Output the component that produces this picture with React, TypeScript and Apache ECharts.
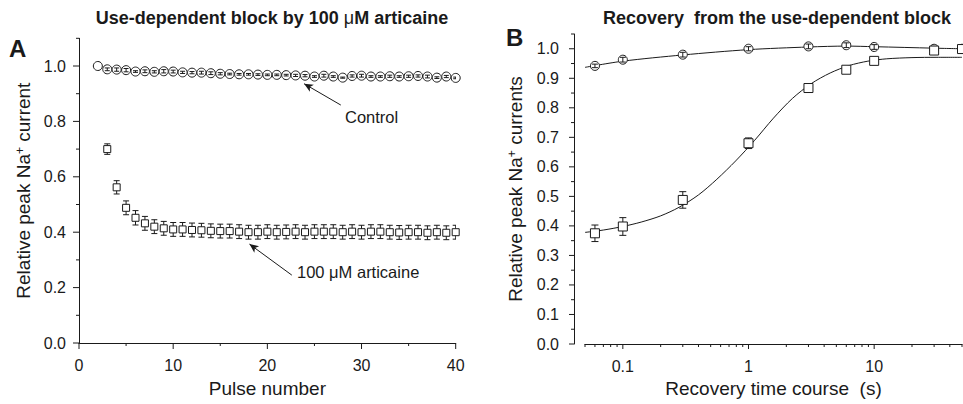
import React, { useEffect, useRef } from 'react';
import * as echarts from 'echarts';

const FONT = '"Liberation Sans", Arial, Helvetica, sans-serif';
const INK = '#1a1a1a';

// ---------- Panel A: use-dependent block ----------
const controlPulses = [2, 3, 4, 5, 6, 7, 8, 9, 10, 11, 12, 13, 14, 15, 16, 17, 18, 19, 20, 21, 22, 23, 24, 25, 26, 27, 28, 29, 30, 31, 32, 33, 34, 35, 36, 37, 38, 39, 40];
const controlA = [1.000, 0.988, 0.987, 0.985, 0.980, 0.981, 0.979, 0.981, 0.980, 0.977, 0.976, 0.976, 0.974, 0.972, 0.971, 0.970, 0.970, 0.969, 0.968, 0.968, 0.967, 0.966, 0.965, 0.962, 0.965, 0.962, 0.958, 0.964, 0.965, 0.962, 0.962, 0.963, 0.962, 0.963, 0.964, 0.962, 0.958, 0.962, 0.957];
const controlAErr = [0, 0.005, 0.006, 0.006, 0.003, 0.005, 0.004, 0.006, 0.005, 0.004, 0.004, 0.005, 0.005, 0.004, 0.003, 0.003, 0.003, 0.003, 0.003, 0.003, 0.003, 0.004, 0.004, 0.003, 0.005, 0.003, 0.002, 0.004, 0.005, 0.003, 0.003, 0.004, 0.003, 0.004, 0.004, 0.005, 0.003, 0.004, 0.003];

const articainePulses = [3, 4, 5, 6, 7, 8, 9, 10, 11, 12, 13, 14, 15, 16, 17, 18, 19, 20, 21, 22, 23, 24, 25, 26, 27, 28, 29, 30, 31, 32, 33, 34, 35, 36, 37, 38, 39, 40];
const articaineA = [0.700, 0.562, 0.488, 0.452, 0.432, 0.420, 0.414, 0.410, 0.410, 0.408, 0.407, 0.405, 0.404, 0.404, 0.402, 0.400, 0.400, 0.402, 0.400, 0.401, 0.402, 0.400, 0.402, 0.402, 0.402, 0.400, 0.402, 0.400, 0.402, 0.402, 0.400, 0.399, 0.400, 0.400, 0.398, 0.400, 0.398, 0.400];
const articaineAErr = [0.019, 0.024, 0.025, 0.026, 0.025, 0.025, 0.025, 0.025, 0.025, 0.025, 0.025, 0.025, 0.025, 0.025, 0.025, 0.025, 0.025, 0.025, 0.025, 0.025, 0.025, 0.025, 0.025, 0.025, 0.025, 0.025, 0.025, 0.025, 0.025, 0.025, 0.025, 0.025, 0.025, 0.025, 0.025, 0.025, 0.025, 0.025];

const xMajorA = [0, 10, 20, 30, 40];
const xMinorA = [5, 15, 25, 35];
const yMajorA = [0, 0.2, 0.4, 0.6, 0.8, 1.0];
const yMinorA = [0.1, 0.3, 0.5, 0.7, 0.9, 1.1];

// ---------- Panel B: recovery ----------
const recoveryTimes = [0.06, 0.1, 0.3, 1, 3, 6, 10, 30, 50];
const controlB = [0.942, 0.963, 0.980, 1.000, 1.008, 1.012, 1.006, 1.000, 1.000];
const controlBErr = [0.006, 0.008, 0.008, 0.007, 0.008, 0.008, 0.008, 0.008, 0.006];
const articaineB = [0.375, 0.398, 0.488, 0.680, 0.867, 0.929, 0.959, 0.994, 0.999];
const articaineBErr = [0.028, 0.030, 0.028, 0.018, 0.006, 0.004, 0.004, 0.008, 0.004];

const fitTimesControl = [0.05, 0.1, 0.3, 1, 3, 6, 10, 30, 50];
const fitControl = [0.937, 0.958, 0.979, 0.997, 1.006, 1.009, 1.007, 1.002, 1.000];
const fitTimesArticaine = [0.05, 0.07, 0.1, 0.14, 0.2, 0.28, 0.4, 0.56, 0.79, 1.12, 1.58, 2.24, 3.16, 4.47, 6.31, 8.91, 12.6, 20, 31.6, 50];
const fitArticaine = [0.378, 0.386, 0.398, 0.413, 0.434, 0.463, 0.505, 0.558, 0.620, 0.690, 0.765, 0.832, 0.882, 0.918, 0.943, 0.958, 0.966, 0.970, 0.971, 0.971];

const xMajorB = [0.1, 1, 10];
const xMinorB = [0.05, 0.06, 0.07, 0.08, 0.09, 0.2, 0.3, 0.4, 0.5, 0.6, 0.7, 0.8, 0.9, 2, 3, 4, 5, 6, 7, 8, 9, 20, 30, 40, 50];
const yMajorB = [0, 0.1, 0.2, 0.3, 0.4, 0.5, 0.6, 0.7, 0.8, 0.9, 1.0];
const yMinorB = [0.05, 0.15, 0.25, 0.35, 0.45, 0.55, 0.65, 0.75, 0.85, 0.95, 1.05];

const X_MIN_B = 0.05;
const X_MAX_B = 50;

function errSeries(xi: number, data: number[][], capW: number, z: number, clip: boolean) {
  return {
    type: 'custom',
    xAxisIndex: xi,
    yAxisIndex: xi,
    z,
    clip,
    silent: true,
    data,
    renderItem: (_p: any, api: any) => {
      const x = api.value(0);
      const y = api.value(1);
      const e = api.value(2);
      if (!(e > 0)) return { type: 'group', children: [] };
      const t = api.coord([x, y + e]);
      const b = api.coord([x, y - e]);
      const h = capW / 2;
      const st = { stroke: INK, lineWidth: 1, fill: null };
      return {
        type: 'group',
        children: [
          { type: 'line', shape: { x1: t[0], y1: t[1], x2: b[0], y2: b[1] }, style: st },
          { type: 'line', shape: { x1: t[0] - h, y1: t[1], x2: t[0] + h, y2: t[1] }, style: st },
          { type: 'line', shape: { x1: b[0] - h, y1: b[1], x2: b[0] + h, y2: b[1] }, style: st },
        ],
      };
    },
  };
}

function tickSeries(xi: number, data: number[][], yOff: number) {
  return {
    type: 'custom',
    xAxisIndex: xi,
    yAxisIndex: xi,
    z: 10,
    clip: false,
    silent: true,
    data,
    renderItem: (_p: any, api: any) => {
      const p = api.coord([api.value(0), api.value(1)]);
      const len = api.value(2);
      const kind = api.value(3);
      const shape =
        kind === 0
          ? { x1: p[0], y1: p[1], x2: p[0], y2: p[1] + len }
          : { x1: p[0] - yOff, y1: p[1], x2: p[0] - yOff - len, y2: p[1] };
      return { type: 'line', shape, style: { stroke: INK, lineWidth: 1 } };
    },
  };
}

const ticksA = [
  ...xMajorA.map((v) => [v, 0, 6, 0]),
  ...xMinorA.map((v) => [v, 0, 3, 0]),
  ...yMajorA.map((v) => [0, v, 6, 1]),
  ...yMinorA.map((v) => [0, v, 3, 1]),
];
const ticksB = [
  ...xMajorB.map((v) => [v, 0, 5, 0]),
  ...xMinorB.map((v) => [v, 0, 3, 0]),
  ...yMajorB.map((v) => [X_MIN_B, v, 5, 1]),
  ...yMinorB.map((v) => [X_MIN_B, v, 3, 1]),
];

const axisLabelBase = { color: INK, fontSize: 16, fontFamily: FONT };
const nameStyle = {
  color: INK,
  fontSize: 19,
  fontFamily: FONT,
  rich: { sup: { fontSize: 12, fontFamily: FONT, color: INK, verticalAlign: 'top', lineHeight: 19 } },
};
const axisLineStyle = { show: true, lineStyle: { color: INK, width: 1 } };

const option: any = {
  animation: false,
  backgroundColor: '#ffffff',
  grid: [
    { left: 79, top: 38.3, width: 376.7, height: 304.7 },
    { left: 585, top: 34, width: 377, height: 310 },
  ],
  xAxis: [
    {
      gridIndex: 0,
      type: 'value',
      min: 0,
      max: 40,
      interval: 10,
      axisLine: axisLineStyle,
      axisTick: { show: false },
      splitLine: { show: false },
      axisLabel: { ...axisLabelBase, margin: 14 },
      name: 'Pulse number',
      nameLocation: 'middle',
      nameGap: 36,
      nameTextStyle: nameStyle,
    },
    {
      gridIndex: 1,
      type: 'log',
      logBase: 10,
      min: X_MIN_B,
      max: X_MAX_B,
      axisLine: axisLineStyle,
      axisTick: { show: false },
      splitLine: { show: false },
      minorSplitLine: { show: false },
      axisLabel: { ...axisLabelBase, margin: 14, showMinLabel: false, showMaxLabel: false },
      name: 'Recovery time course  (s)',
      nameLocation: 'middle',
      nameGap: 34,
      nameTextStyle: nameStyle,
    },
  ],
  yAxis: [
    {
      gridIndex: 0,
      type: 'value',
      min: 0,
      max: 1.1,
      interval: 0.2,
      axisLine: axisLineStyle,
      axisTick: { show: false },
      splitLine: { show: false },
      axisLabel: { ...axisLabelBase, margin: 13, showMaxLabel: false, formatter: (v: number) => v.toFixed(1) },
      name: 'Relative peak Na{sup|+} current',
      nameLocation: 'middle',
      nameGap: 46,
      nameTextStyle: nameStyle,
    },
    {
      gridIndex: 1,
      type: 'value',
      min: 0,
      max: 1.05,
      interval: 0.1,
      offset: 11,
      axisLine: axisLineStyle,
      axisTick: { show: false },
      splitLine: { show: false },
      axisLabel: { ...axisLabelBase, margin: 15, showMaxLabel: false, formatter: (v: number) => v.toFixed(1) },
      name: 'Relative peak Na{sup|+} currents',
      nameLocation: 'middle',
      nameGap: 49,
      nameTextStyle: nameStyle,
    },
  ],
  graphic: [
    {
      type: 'text',
      x: 272,
      y: 18,
      style: {
        text: 'Use-dependent block by 100 {mu|μ}M articaine',
        font: `bold 18px ${FONT}`,
        fill: INK,
        textAlign: 'center',
        align: 'center',
        textVerticalAlign: 'middle',
        verticalAlign: 'middle',
        rich: { mu: { font: `normal 18px ${FONT}`, fill: INK } },
      },
    },
    {
      type: 'text',
      x: 777,
      y: 18,
      style: {
        text: 'Recovery  from the use-dependent block',
        font: `bold 18px ${FONT}`,
        fill: INK,
        textAlign: 'center',
        align: 'center',
        textVerticalAlign: 'middle',
        verticalAlign: 'middle',
      },
    },
    {
      type: 'text',
      x: 9,
      y: 48,
      style: { text: 'A', font: `bold 24px ${FONT}`, fill: INK, textVerticalAlign: 'middle', verticalAlign: 'middle' },
    },
    {
      type: 'text',
      x: 506,
      y: 37,
      style: { text: 'B', font: `bold 24px ${FONT}`, fill: INK, textVerticalAlign: 'middle', verticalAlign: 'middle' },
    },
    {
      type: 'text',
      x: 345,
      y: 117,
      style: { text: 'Control', font: `16.5px ${FONT}`, fill: INK, textVerticalAlign: 'middle', verticalAlign: 'middle' },
    },
    {
      type: 'text',
      x: 297,
      y: 272,
      style: { text: '100 μM articaine', font: `16.5px ${FONT}`, fill: INK, textVerticalAlign: 'middle', verticalAlign: 'middle' },
    },
  ],
  series: [
    // Panel A
    {
      type: 'scatter',
      name: 'Control',
      xAxisIndex: 0,
      yAxisIndex: 0,
      symbol: 'circle',
      symbolSize: 9,
      z: 2,
      clip: true,
      itemStyle: { color: '#ffffff', borderColor: INK, borderWidth: 1, opacity: 1 },
      data: controlPulses.map((p, i) => [p, controlA[i]]),
      markLine: {
        silent: true,
        animation: false,
        symbol: ['none', 'arrow'],
        symbolSize: [6, 9],
        label: { show: false },
        lineStyle: { color: INK, width: 1, type: 'solid' },
        data: [
          [{ coord: [27.8, 0.859] }, { coord: [23.9, 0.936] }],
          [{ coord: [22.6, 0.245] }, { coord: [18.1, 0.357] }],
        ],
      },
    },
    errSeries(0, controlPulses.map((p, i) => [p, controlA[i], controlAErr[i]]), 5, 3, true),
    errSeries(0, articainePulses.map((p, i) => [p, articaineA[i], articaineAErr[i]]), 6, 4, true),
    {
      type: 'scatter',
      name: '100 μM articaine',
      xAxisIndex: 0,
      yAxisIndex: 0,
      symbol: 'rect',
      symbolSize: 7,
      z: 5,
      clip: true,
      itemStyle: { color: '#ffffff', borderColor: INK, borderWidth: 1, opacity: 1 },
      data: articainePulses.map((p, i) => [p, articaineA[i]]),
    },
    // Panel B
    {
      type: 'line',
      xAxisIndex: 1,
      yAxisIndex: 1,
      showSymbol: false,
      smooth: 0.3,
      z: 1,
      silent: true,
      lineStyle: { color: INK, width: 1 },
      data: fitTimesControl.map((t, i) => [t, fitControl[i]]),
    },
    {
      type: 'line',
      xAxisIndex: 1,
      yAxisIndex: 1,
      showSymbol: false,
      smooth: 0.3,
      z: 1,
      silent: true,
      lineStyle: { color: INK, width: 1 },
      data: fitTimesArticaine.map((t, i) => [t, fitArticaine[i]]),
    },
    {
      type: 'scatter',
      xAxisIndex: 1,
      yAxisIndex: 1,
      symbol: 'circle',
      symbolSize: 9,
      z: 2,
      clip: false,
      itemStyle: { color: '#ffffff', borderColor: INK, borderWidth: 1, opacity: 1 },
      data: recoveryTimes.map((t, i) => [t, controlB[i]]),
    },
    errSeries(1, recoveryTimes.map((t, i) => [t, controlB[i], controlBErr[i]]), 6, 3, false),
    errSeries(1, recoveryTimes.map((t, i) => [t, articaineB[i], articaineBErr[i]]), 7, 4, false),
    {
      type: 'scatter',
      xAxisIndex: 1,
      yAxisIndex: 1,
      symbol: 'rect',
      symbolSize: 9,
      z: 5,
      clip: false,
      itemStyle: { color: '#ffffff', borderColor: INK, borderWidth: 1, opacity: 1 },
      data: recoveryTimes.map((t, i) => [t, articaineB[i]]),
    },
    tickSeries(0, ticksA, 0),
    tickSeries(1, ticksB, 11),
  ],
};

export default function App() {
  const ref = useRef<HTMLDivElement>(null);
  useEffect(() => {
    document.body.style.margin = '0';
    const chart = echarts.init(ref.current!, null, { renderer: 'svg' });
    chart.setOption(option);
    return () => chart.dispose();
  }, []);
  return <div ref={ref} style={{ width: 963, height: 404 }} />;
}
